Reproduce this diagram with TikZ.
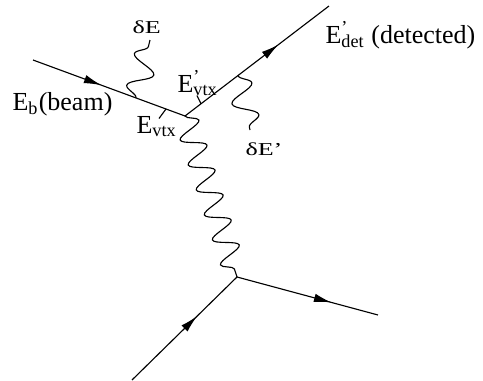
\documentclass[tikz,border=0pt]{standalone}
\usepackage{fontspec}
\setmainfont{Liberation Serif}
\usetikzlibrary{arrows.meta,decorations.markings,decorations.pathmorphing}

\tikzset{
  midarrow/.style={postaction={decorate,decoration={markings,
      mark=at position #1 with {\arrow{Latex[length=7pt,width=3.4pt]}}}}},
  photon/.style={decorate,decoration={snake,segment length=#1,amplitude=4.8pt}},
  photon/.default=10.5pt,
  biglabel/.style={anchor=base west,inner sep=0pt,font=\fontsize{10.4}{12}\selectfont}
}
\newcommand{\squash}[1]{\scalebox{1}[0.7]{#1}}

\begin{document}
\begin{tikzpicture}[x=0.4pt, y=-0.4pt, line width=0.45pt]
	\useasboundingbox (0,0) rectangle (483,381);
	% vertices and line ends
	\coordinate (Vup)     at (185,116);
	\coordinate (Vlow)    at (237,277);
	\coordinate (Beam)    at (33,60);
	\coordinate (Det)     at (329,6);
	\coordinate (Lowin)   at (132,380);
	\coordinate (Lowout)  at (378,315);
	% photon ends
	\coordinate (dE_a)    at (136,97.9);
	\coordinate (dE_b)    at (150,40);
	\coordinate (dEp_a)   at (238,75.5);
	\coordinate (dEp_b)   at (250,130);
	% ticks
	\coordinate (Tk_a)    at (166,109);
	\coordinate (Tk_b)    at (159,118.5);
	\coordinate (Tk_c)    at (201,103.8);
	\coordinate (Tk_d)    at (197,95.5);
	\draw[midarrow=0.45] (Beam) -- (Vup);
	\draw[midarrow=0.65] (Vup) -- (Det);
	\draw[midarrow=0.62] (Lowin) -- (Vlow);
	\draw[midarrow=0.67] (Vlow) -- (Lowout);
	\draw[photon] (Vup) -- (Vlow);
	\draw[photon=13pt] (dE_a) -- (dE_b);
	\draw[photon=13pt] (dEp_a) -- (dEp_b);
	\draw (Tk_a) -- (Tk_b);
	\draw (Tk_c) -- (Tk_d);
	\node[biglabel] (Lbeam) at (12,110) {E\textsubscript{b}(beam)};
	\node[biglabel] (Lvtx)  at (136,133) {E\textsubscript{vtx}};
	\node[biglabel] (Lvtxp) at (177,92) {E\rlap{\textsuperscript{’}}\textsubscript{vtx}};
	\node[biglabel] (Ldet)  at (325,43) {E\rlap{\textsuperscript{’}}\textsubscript{det} (detected)};
	\node[biglabel] (LdE)   at (132,33) {\squash{δE}};
	\node[biglabel] (LdEp)  at (245,155) {\squash{δE’}};
\end{tikzpicture}
\end{document}
